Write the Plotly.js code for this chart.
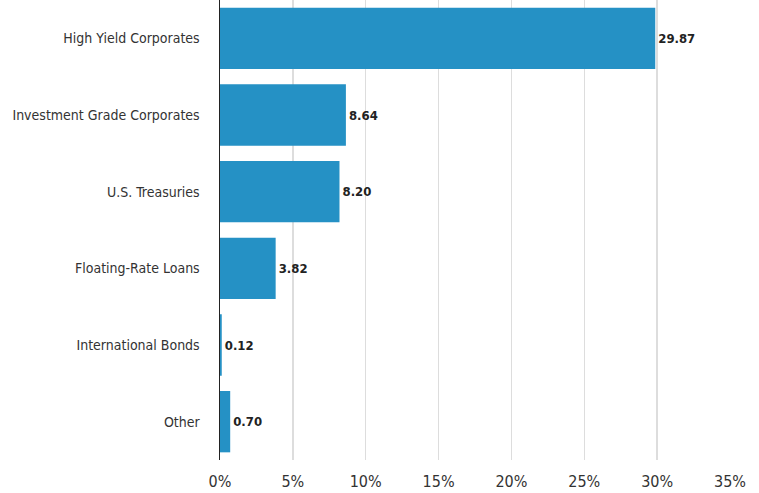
<!DOCTYPE html>
<html>
<head>
<meta charset="utf-8">
<script src="https://cdn.plot.ly/plotly-3.0.1.min.js"></script>
<style>html,body{margin:0;padding:0;background:#fff;}#chart{width:759px;height:493px;}</style>
</head>
<body>
<div id="chart"></div>
<script>
const categories = ["High Yield Corporates","Investment Grade Corporates","U.S. Treasuries","Floating-Rate Loans","International Bonds","Other"];
const values = [29.87, 8.64, 8.20, 3.82, 0.12, 0.70];
const tickVals = [0,5,10,15,20,25,30,35];
const tickLabels = ["0%","5%","10%","15%","20%","25%","30%","35%"];

const fontFam = '"Liberation Sans Narrow", "Arial Narrow", "DejaVu Sans Condensed", "Liberation Sans", Arial, sans-serif';

Plotly.newPlot('chart', [{
  type: 'bar',
  orientation: 'h',
  y: categories,
  x: values,
  marker: {color: '#2591c5'},
  text: values.map(v => v.toFixed(2)),
  textposition: 'outside',
  textfont: {family: fontFam, size: 13, color: '#222', weight: 'bold'},
  cliponaxis: false,
  hoverinfo: 'none'
}], {
  width: 759, height: 493,
  margin: {l: 220, r: 29, t: 0, b: 33},
  paper_bgcolor: '#fff', plot_bgcolor: '#fff',
  bargap: 0.2,
  showlegend: false,
  font: {family: fontFam, color: '#333', size: 14},
  xaxis: {
    range: [0, 35],
    tickvals: tickVals,
    ticktext: tickLabels,
    showgrid: true,
    gridcolor: '#dddddd',
    gridwidth: 1.5,
    zeroline: false,
    showline: false,
    ticks: '',
    ticklabelstandoff: 10,
    tickfont: {family: fontFam, size: 16, color: '#333'},
    fixedrange: true
  },
  yaxis: {
    autorange: 'reversed',
    showgrid: false,
    zeroline: false,
    showline: true,
    linecolor: '#222',
    linewidth: 1.5,
    ticks: '',
    ticklabelstandoff: 16,
    tickfont: {family: fontFam, size: 14, color: '#333'},
    fixedrange: true
  }
}, {displayModeBar: false, staticPlot: true});
</script>
</body>
</html>
